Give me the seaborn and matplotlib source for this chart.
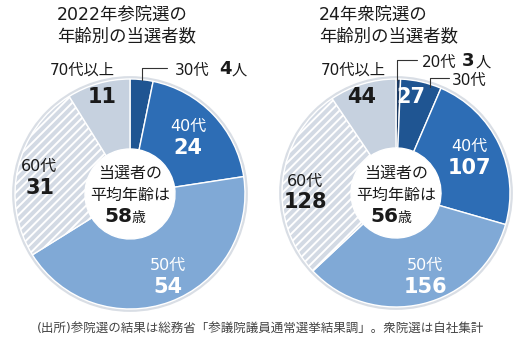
import numpy as np
import matplotlib
matplotlib.use("Agg")
import matplotlib.pyplot as plt
import seaborn as sns

# --- data ---------------------------------------------------------------
labels_22 = ["30代", "40代", "50代", "60代", "70代以上"]
counts_22 = [4, 24, 54, 31, 11]
avg_age_22 = 58

labels_24 = ["20代", "30代", "40代", "50代", "60代", "70代以上"]
counts_24 = [3, 27, 107, 156, 128, 44]
avg_age_24 = 56

title_22 = "2022年参院選の\n年齢別の当選者数"
title_24 = "24年衆院選の\n年齢別の当選者数"
center_lines = ["当選者の", "平均年齢は"]
source_note = "(出所)参院選の結果は総務省「参議院議員通常選挙結果調」。衆院選は自社集計"

# --- style --------------------------------------------------------------
sns.set_theme(style="white")
# DejaVu for the (wide) latin digits, Noto CJK for the kanji/kana
plt.rcParams["font.family"] = ["DejaVu Sans", "Noto Sans CJK JP"]
plt.rcParams["hatch.linewidth"] = 1.4
plt.rcParams["hatch.color"] = "#566171"

palette = {
    "20代": "#1b3a63",
    "30代": "#1f5592",
    "40代": "#2d6db5",
    "50代": "#80a9d6",
    "60代": "#d3dae4",
    "70代以上": "#c6d1df",
}
TXT = "#1a1a1a"
W, H = 524, 356


def draw_donut(ax, labels, counts, cx, cy, r, r_in):
    # faint halo around the ring, like the original
    ax.add_patch(plt.Circle((cx, H - cy), r + 1.5, fc="none",
                            ec="#d9dee5", lw=2, zorder=0))
    wedges, _ = ax.pie(
        counts,
        colors=[palette[l] for l in labels],
        startangle=90,
        counterclock=False,
        center=(cx, H - cy),
        radius=r,
        wedgeprops=dict(width=r - r_in, edgecolor="white", linewidth=1.0),
    )
    for w, l in zip(wedges, labels):
        if l == "60代":
            w.set_hatch("////")
    return wedges


def put(ax, x, y, s, size=11.5, weight="normal", color=TXT, ha="center"):
    ax.text(x, H - y, s, fontsize=size, fontweight=weight, color=color,
            ha=ha, va="center")


def center_label(ax, cx, age):
    put(ax, cx, 173, center_lines[0], 11.5)
    put(ax, cx, 195, center_lines[1], 11.5)
    put(ax, cx + 2, 217, str(age), 14.5, "bold", ha="right")
    put(ax, cx + 2, 218, "歳", 10, ha="left")


fig = plt.figure(figsize=(W / 100, H / 100), dpi=100)
ax = fig.add_axes([0, 0, 1, 1])

# left donut (2022)
cxL, cyL = 130, 194
draw_donut(ax, labels_22, counts_22, cxL, cyL, 115, 45)
# right donut (2024)
cxR, cyR = 396, 193
draw_donut(ax, labels_24, counts_24, cxR, cyR, 114, 45)

ax.set_xlim(0, W)
ax.set_ylim(0, H)
ax.set_aspect("equal")
ax.axis("off")

# titles
ax.text(57, H - 6, title_22, fontsize=12.5, color=TXT, ha="left", va="top",
        linespacing=1.25)
ax.text(319, H - 6, title_24, fontsize=12.5, color=TXT, ha="left", va="top",
        linespacing=1.25)

# ---- left labels ----
put(ax, 82, 70, "70代以上", 11)
ax.plot([142, 142, 167], [H - 80, H - 68, H - 68], color="#333333", lw=0.8)
put(ax, 175, 70, "30代", 11, ha="left")
put(ax, 219, 69, str(counts_22[0]), 13, "bold", ha="left")
put(ax, 232, 70, "人", 11, ha="left")
put(ax, 102, 97, str(counts_22[4]), 15, "bold")
put(ax, 188, 126, "40代", 11.5, color="white")
put(ax, 188, 148, str(counts_22[1]), 15, "bold", color="white")
put(ax, 39, 166, "60代", 11.5)
put(ax, 40, 188, str(counts_22[3]), 15, "bold")
put(ax, 168, 265, "50代", 11.5, color="white")
put(ax, 168, 287, str(counts_22[2]), 15, "bold", color="white")
center_label(ax, cxL, avg_age_22)

# ---- right labels ----
put(ax, 353, 70, "70代以上", 11)
ax.plot([397, 397, 417], [H - 80, H - 60, H - 60], color="#333333", lw=0.8)
put(ax, 422, 62, "20代", 11, ha="left")
put(ax, 462, 61, str(counts_24[0]), 13, "bold", ha="left")
put(ax, 476, 62, "人", 11, ha="left")
ax.plot([430, 430, 449], [H - 87, H - 78, H - 78], color="#333333", lw=0.8)
put(ax, 452, 80, "30代", 11, ha="left")
put(ax, 362, 97, str(counts_24[5]), 15, "bold")
put(ax, 411, 97, str(counts_24[1]), 15, "bold", color="white")
put(ax, 469, 146, "40代", 11.5, color="white")
put(ax, 469, 168, str(counts_24[2]), 15, "bold", color="white")
put(ax, 305, 181, "60代", 11.5)
put(ax, 305, 202, str(counts_24[4]), 15, "bold")
put(ax, 425, 265, "50代", 11.5, color="white")
put(ax, 425, 287, str(counts_24[3]), 15, "bold", color="white")
center_label(ax, cxR, avg_age_24)

# source
put(ax, 260, 329, source_note, 9, color="#444444")

fig.savefig("out.png", dpi=100)
